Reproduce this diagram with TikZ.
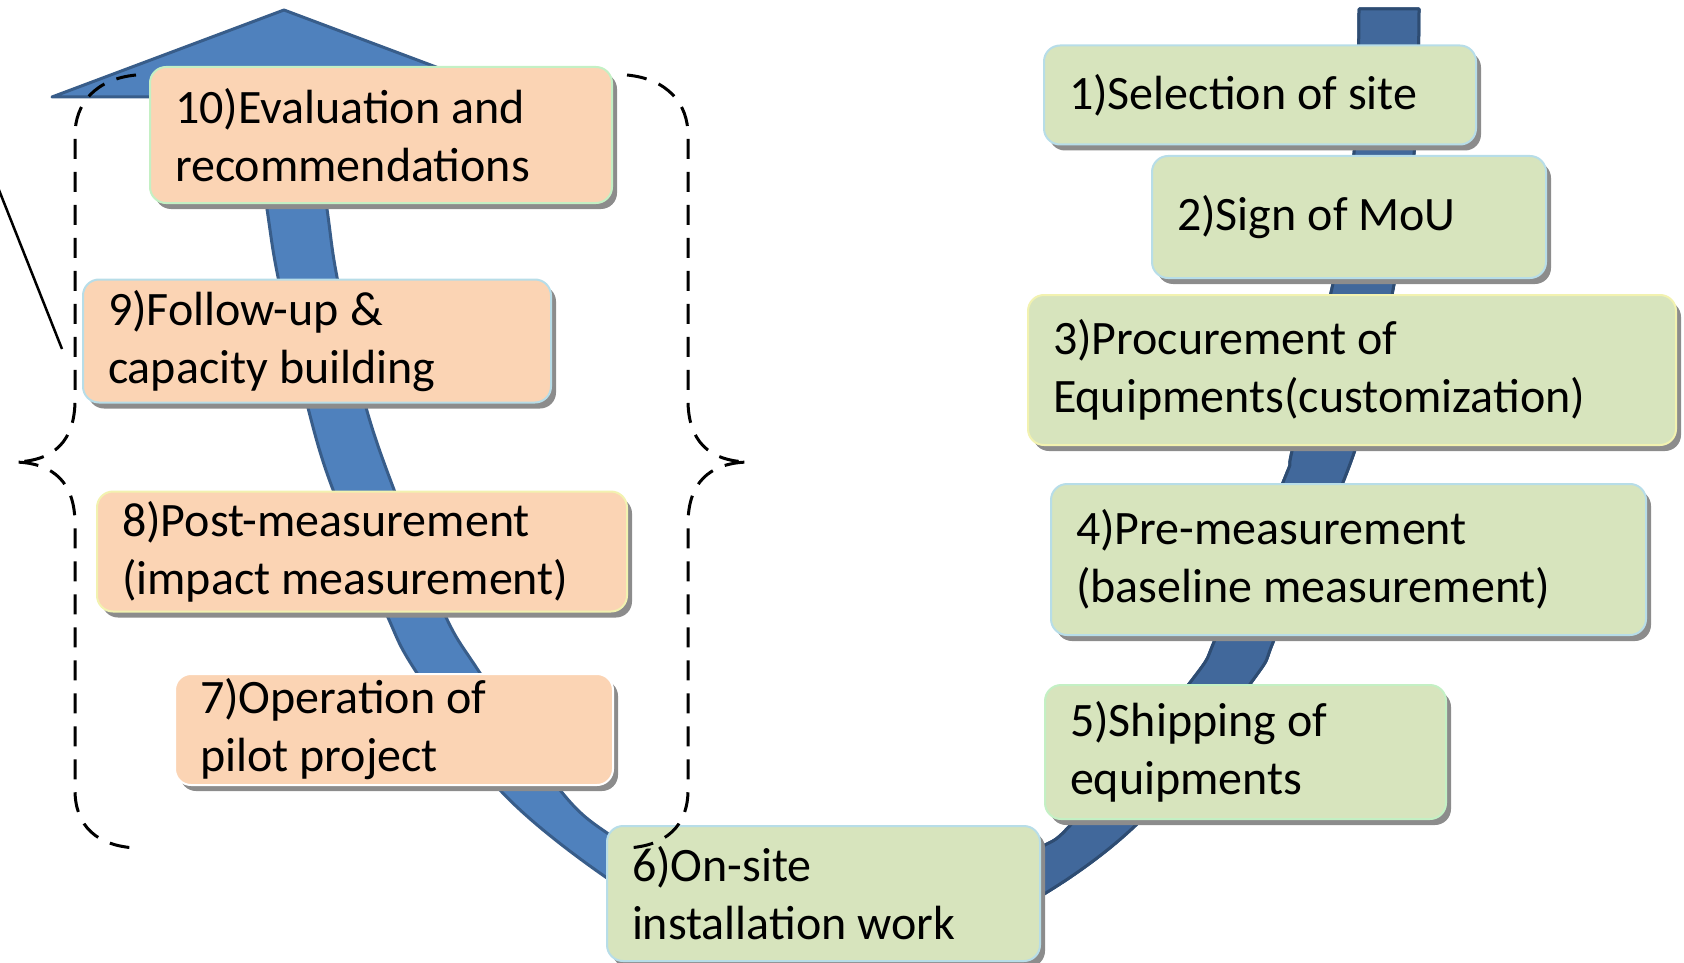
\documentclass[tikz,border=0pt]{standalone}
\usepackage{fontspec}
\setmainfont{Carlito}
\usetikzlibrary{shadows}

\definecolor{bandlight}{HTML}{4F81BD}
\definecolor{bandlightedge}{HTML}{385D8A}
\definecolor{banddark}{HTML}{41689B}
\definecolor{banddarkedge}{HTML}{2E4C72}
\definecolor{stepgreen}{HTML}{D7E4BD}
\definecolor{steppeach}{HTML}{FBD4B4}
\definecolor{rimcyan}{HTML}{B7DDE8}
\definecolor{rimyellow}{HTML}{F2F2B0}
\definecolor{rimgreen}{HTML}{C4F0C4}
\definecolor{shadowgrey}{HTML}{8C8C8C}

% step label font with a fixed, non-stretching word space
\newcommand\stepfont{\fontsize{48}{58}\selectfont
  \fontdimen2\font=11pt\fontdimen3\font=0pt\fontdimen4\font=0pt\relax}
\newcommand\stepspacing{\spaceskip=11pt\relax\xspaceskip=11pt\relax}

\tikzset{
  stepbox/.style={rounded corners=16pt, line width=2pt, inner xsep=25pt, inner ysep=0pt,
    align=left, font=\stepfont, execute at begin node=\stepspacing,
    general shadow={fill=shadowgrey, shadow xshift=5pt, shadow yshift=-6pt}},
  greenstep/.style={stepbox, fill=stepgreen, draw=rimcyan},
  peachstep/.style={stepbox, fill=steppeach, draw=rimcyan},
  brace/.style={draw=black, line width=3pt, dash pattern=on 20pt off 13pt},
  bandedge/.style={line width=3pt, line join=round},
}

% outline of the U-shaped process arrow (sides, hidden bottom, head)
\newcommand\bandpath{(1359,9) -- (1419,9) -- plot[smooth,tension=0.55] coordinates {(1419,10) (1415,143) (1396,274) (1356,447) (1277,633) (1253,680) (1143,818) (1039,897) (950,932) (823,950) (700,928) (607,878) (500,790) (415,670) (386,613) (332,487) (306,400) (278,277) (267,209) (251,97)} -- (52,97) -- (284,10) -- (516,97) -- (311,97) -- plot[smooth,tension=0.55] coordinates {(311,97) (327,209) (337,277) (364,400) (393,487) (444,613) (478,670) (560,790) (610,835) (690,880) (823,900) (960,880) (1039,848) (1077,818) (1192,680) (1218,633) (1284,480) (1293,447) (1335,274) (1355,143) (1359,10)} -- cycle}

\begin{document}
\begin{tikzpicture}[x=1pt,y=-1pt]
\useasboundingbox (0,0) rectangle (1684,963);

% process arrow: lighter on the rising side, darker on the falling side
\path[fill=bandlight, draw=bandlightedge, bandedge] \bandpath;
\begin{scope}
  \clip (820,0) rectangle (1700,970);
  \path[fill=banddark, draw=banddarkedge, bandedge] \bandpath;
\end{scope}

% steps 1-6
\node[greenstep, minimum width=432pt, minimum height=99pt, text width=382pt] (s1) at (1260,95) {1)Selection of site};
\node[greenstep, minimum width=394pt, minimum height=122pt, text width=344pt] (s2) at (1349,217) {2)Sign of MoU};
\node[greenstep, draw=rimyellow, minimum width=648pt, minimum height=150pt, text width=598pt] (s3) at (1352,370) {3)Procurement of\\Equipments(customization)};
\node[greenstep, minimum width=595pt, minimum height=151pt, text width=545pt] (s4) at (1348.5,559.5) {4)Pre-measurement\\(baseline measurement)};
\node[greenstep, draw=rimgreen, minimum width=401pt, minimum height=134pt, text width=351pt] (s5) at (1245.5,752) {5)Shipping of\\equipments};
\node[greenstep, minimum width=433pt, minimum height=135pt, text width=383pt] (s6) at (823.5,893.5) {6)On-site\\installation work};

% steps 7-10
\node[peachstep, draw=white, minimum width=438pt, minimum height=111pt, text width=388pt] (s7) at (394,729.5) {7)Operation of\\pilot project};
\node[peachstep, draw=rimyellow, minimum width=530pt, minimum height=120pt, text width=480pt] (s8) at (362,551.5) {8)Post-measurement\\(impact measurement)};
\node[peachstep, minimum width=468pt, minimum height=123pt, text width=418pt] (s9) at (317,341) {9)Follow-up \&\\capacity building};
\node[peachstep, draw=rimgreen, minimum width=462pt, minimum height=136pt, text width=412pt] (s10) at (381,135) {10)Evaluation and\\recommendations};

% dashed braces around steps 7-10
\path[brace] (136,75) .. controls (95,79) and (75,104) .. (75,135) -- (75,400)
  .. controls (75,440) and (55,461) .. (15,462)
  .. controls (55,463) and (75,484) .. (75,524) -- (75,790)
  .. controls (75,826) and (97,846) .. (136,848);
\path[brace] (627,75) .. controls (668,79) and (688,104) .. (688,135) -- (688,400)
  .. controls (688,440) and (708,461) .. (748,462)
  .. controls (708,463) and (688,484) .. (688,524) -- (688,790)
  .. controls (688,826) and (666,846) .. (627,848);

% leader line at the left edge
\coordinate (leadA) at (-3,185);
\coordinate (leadB) at (62,349);
\draw[line width=2.5pt] (leadA) -- (leadB);
\end{tikzpicture}
\end{document}
